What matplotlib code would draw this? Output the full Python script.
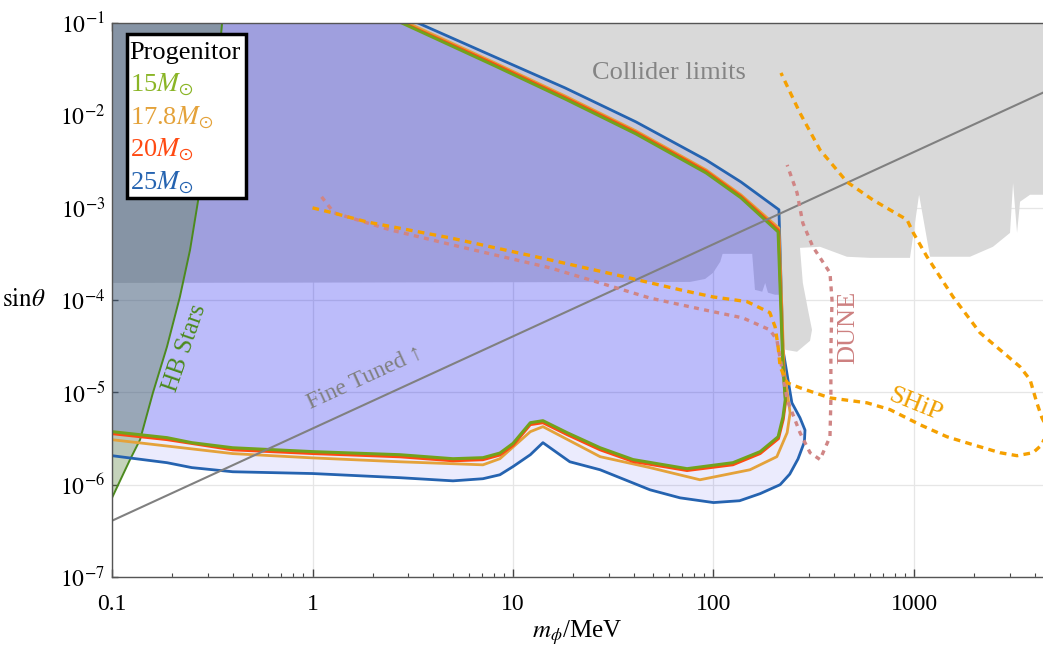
import numpy as np
import matplotlib
matplotlib.use("Agg")
import matplotlib.pyplot as plt
from matplotlib.patches import Rectangle
from matplotlib.ticker import LogLocator, NullLocator, FixedLocator, FixedFormatter

# supernova bounds, traced from the top edge round the right side and back along the bottom
m_25 = [3.36, 8.13, 18.2, 41.0, 91.8, 137, 212, 222, 246, 270, 286, 284, 264, 240, 215, 171, 135, 100, 68.1, 48.2, 27.2, 19.2, 14.1, 12.2, 10, 8.6, 7.08, 5.02, 2.73, 1.0, 0.40, 0.25, 0.188, 0.1]
s_25 = [0.1, 0.0428, 0.0198, 0.0085, 3.29e-3, 1.9e-3, 9.5e-4, 2.9e-5, 7.7e-6, 5.3e-6, 3.9e-6, 2.9e-6, 1.9e-6, 1.3e-6, 1.0e-6, 8.0e-7, 6.7e-7, 6.4e-7, 7.2e-7, 8.8e-7, 1.45e-6, 1.77e-6, 2.85e-6, 2.11e-6, 1.57e-6, 1.28e-6, 1.16e-6, 1.10e-6, 1.19e-6, 1.32e-6, 1.38e-6, 1.53e-6, 1.73e-6, 2.06e-6]

m_178 = [2.99, 8.13, 18.2, 41.0, 91.8, 137, 212, 225, 241, 233, 207, 152, 85.6, 48.2, 27.2, 14.1, 12.2, 8.6, 7.08, 2.73, 1.0, 0.40, 0.1]
s_178 = [0.1, 0.037, 0.0162, 6.8e-3, 2.57e-3, 1.38e-3, 6.0e-4, 1.76e-5, 6.0e-6, 3.66e-6, 2.01e-6, 1.45e-6, 1.13e-6, 1.53e-6, 2.01e-6, 4.25e-6, 3.75e-6, 1.91e-6, 1.64e-6, 1.77e-6, 1.95e-6, 2.17e-6, 3.07e-6]

m_20 = [2.85, 8.13, 18.2, 41.0, 91.8, 137, 211, 223, 229, 223, 211, 171, 125, 73.8, 39.7, 27.2, 18.6, 14.1, 12.2, 10, 8.6, 7.08, 5.02, 2.73, 1.0, 0.40, 0.188, 0.1]
s_20 = [0.1, 0.0357, 0.0156, 6.55e-3, 2.48e-3, 1.33e-3, 5.7e-4, 1.8e-5, 7.9e-6, 5.1e-6, 3.15e-6, 2.17e-6, 1.64e-6, 1.42e-6, 1.78e-6, 2.38e-6, 3.48e-6, 4.68e-6, 4.46e-6, 2.66e-6, 2.09e-6, 1.86e-6, 1.81e-6, 2.0e-6, 2.17e-6, 2.38e-6, 3.07e-6, 3.56e-6]

m_15 = [2.79, 8.13, 18.2, 41.0, 91.8, 137, 210, 222, 228, 222, 210, 171, 125, 73.8, 39.7, 27.2, 18.6, 14.1, 12.2, 10, 8.6, 7.08, 5.02, 2.73, 1.0, 0.40, 0.25, 0.188, 0.1]
s_15 = [0.1, 0.0343, 0.01503, 6.3e-3, 2.38e-3, 1.28e-3, 5.47e-4, 1.89e-5, 8.3e-6, 5.4e-6, 3.3e-6, 2.28e-6, 1.73e-6, 1.49e-6, 1.87e-6, 2.51e-6, 3.66e-6, 4.93e-6, 4.69e-6, 2.8e-6, 2.2e-6, 1.96e-6, 1.91e-6, 2.11e-6, 2.28e-6, 2.51e-6, 2.85e-6, 3.23e-6, 3.75e-6]

# horizontal branch stars
m_hb = [0.1, 0.123, 0.138, 0.160, 0.188, 0.218, 0.245, 0.269, 0.298, 0.327, 0.354, 0.1]
s_hb = [7.2e-7, 1.87e-6, 3.07e-6, 9.9e-6, 3.12e-5, 1.08e-4, 3.49e-4, 1.21e-3, 4.22e-3, 0.0147, 0.1, 0.1]

# collider limits (lower edge of the gray region)
m_col = [0.1, 76.4, 90.8, 99.5, 108, 111, 156, 161, 175, 181, 187, 203, 217, 220, 228, 261, 303, 310, 296, 279, 270, 340, 463, 604, 955, 1060, 1203, 1903, 2477, 3013, 3120, 3266, 3381, 3793, 5000, 5000, 0.1]
s_col = [1.53e-4, 1.57e-4, 1.69e-4, 1.97e-4, 2.59e-4, 3.16e-4, 3.16e-4, 1.29e-4, 1.23e-4, 1.53e-4, 1.20e-4, 1.14e-4, 1.14e-4, 3.71e-5, 2.89e-5, 2.75e-5, 3.61e-5, 4.75e-5, 7.83e-5, 1.53e-4, 3.67e-4, 3.77e-4, 2.94e-4, 2.86e-4, 2.86e-4, 1.38e-3, 2.94e-4, 2.94e-4, 3.77e-4, 5.33e-4, 1.85e-3, 5.33e-4, 1.16e-3, 1.38e-3, 1.38e-3, 0.2, 0.2]

# future experiments
m_dune = [1.11, 1.28, 2.44, 5.45, 15.3, 27.2, 48.2, 85.6, 140, 191, 207, 220, 233, 270, 303, 340, 381, 385, 385, 390, 381, 313, 279, 261, 233]
s_dune = [1.31e-3, 8.8e-4, 5.75e-4, 3.77e-4, 2.23e-4, 1.53e-4, 1.05e-4, 8.0e-5, 6.4e-5, 4.75e-5, 3.71e-5, 1.76e-5, 8.3e-6, 3.66e-6, 2.22e-6, 1.87e-6, 3.3e-6, 8.3e-6, 2.89e-5, 1.0e-4, 1.97e-4, 3.77e-4, 6.8e-4, 1.45e-3, 2.9e-3]

m_ship = [1.0, 1.26, 1.87, 4.85, 15.3, 34.2, 68.1, 99.5, 147, 191, 203, 210, 215, 233, 270, 381, 583, 759, 1072, 1462, 1968, 2685, 3266, 3926, 4345, 4656, 4345, 4100, 3793, 3381, 2685, 2133, 1567, 1161, 989, 923, 625, 463, 340, 270, 217]
s_ship = [9.95e-4, 8.8e-4, 7.0e-4, 4.71e-4, 2.72e-4, 1.83e-4, 1.29e-4, 1.08e-4, 9.6e-5, 7.3e-5, 5.1e-5, 3.12e-5, 1.89e-5, 1.27e-5, 1.12e-5, 8.7e-6, 7.7e-6, 6.5e-6, 4.46e-6, 3.3e-6, 2.71e-6, 2.22e-6, 2.06e-6, 2.22e-6, 2.71e-6, 3.94e-6, 5.31e-6, 7.7e-6, 1.37e-5, 1.89e-5, 2.89e-5, 4.42e-5, 1.08e-4, 2.94e-4, 5.4e-4, 7.4e-4, 1.21e-3, 1.9e-3, 4.22e-3, 0.0106, 0.0288]

# fine tuning line
m_ft = [0.1, 4400]
s_ft = [4.07e-7, 0.0176]

x_ticks = [0.1, 1, 10, 100, 1000]
x_labels = ["0.1", "1", "10", "100", "1000"]
y_ticks = [1e-7, 1e-6, 1e-5, 1e-4, 1e-3, 1e-2, 1e-1]
y_labels = ["$10^{-7}$", "$10^{-6}$", "$10^{-5}$", "$10^{-4}$", "$10^{-3}$", "$10^{-2}$", "$10^{-1}$"]

progenitors = ["15", "17.8", "20", "25"]
prog_colors = ["#8ab526", "#e4a23a", "#ff4a12", "#2563b0"]

plt.rcParams['font.family'] = ['Liberation Serif', 'DejaVu Serif']
plt.rcParams['mathtext.fontset'] = 'stix'

fig = plt.figure(figsize=(10.43, 6.46), dpi=100)
ax = fig.add_axes([0.1074, 0.1068, 0.8926, 0.8576])
ax.set_xscale('log')
ax.set_yscale('log')
ax.set_xlim(0.1, 4400)
ax.set_ylim(1e-7, 1e-1)

ax.grid(True, which='major', color='#e6e6e6', lw=0.9, zorder=0)
ax.set_axisbelow(True)

# collider region
ax.fill(m_col, s_col, color='#d9d9d9', lw=0, zorder=1)

# supernova regions
ax.fill(m_25 + [0.1], s_25 + [0.1], color=(0, 0, 0.94), alpha=0.078, lw=0, zorder=2)
ax.fill(m_15 + [0.1], s_15 + [0.1], color=(0, 0, 0.94), alpha=0.2, lw=0, zorder=2)

# HB stars
ax.fill(m_hb, s_hb, color='#5a823c', alpha=0.35, lw=0, zorder=3)
ax.plot(m_hb[:-1], s_hb[:-1], color='#4c8a1e', lw=1.4, zorder=4)

ax.plot(m_25, s_25, color=prog_colors[3], lw=2.0, zorder=5)
ax.plot(m_178, s_178, color=prog_colors[1], lw=2.0, zorder=5)
ax.plot(m_20, s_20, color=prog_colors[2], lw=2.0, zorder=5)
ax.plot(m_15, s_15, color='#72a21c', lw=2.2, zorder=5)

ax.plot(m_ft, s_ft, color='#808080', lw=1.5, zorder=6)

ax.plot(m_dune, s_dune, color='#d08585', lw=2.4, ls=(0, (1.5, 1.6)), zorder=6)
ax.plot(m_ship, s_ship, color='#f5a000', lw=2.4, ls=(0, (2.0, 1.6)), zorder=6)

ax.text(60, 0.0288, "Collider limits", color='#848484', fontsize=19, ha='center', va='center', zorder=7)
ax.text(0.231, 3.04e-5, "HB Stars", color='#4c8a1e', fontsize=18, rotation=71, ha='center', va='center', rotation_mode='anchor', zorder=7)
ax.text(1.83, 1.44e-5, "Fine Tuned ↑", color='#808080', fontsize=17, rotation=24.7, ha='center', va='center', rotation_mode='anchor', zorder=7)
ax.text(470, 5.0e-5, "DUNE", color='#cd8080', fontsize=19, rotation=90, ha='center', va='center', zorder=7)
ax.text(1012, 7.3e-6, "SHiP", color='#f0a000', fontsize=19, rotation=-22, ha='center', va='center', rotation_mode='anchor', zorder=7)

# legend box
ax.add_patch(Rectangle((0.0161, 0.684), 0.128, 0.296, transform=ax.transAxes, facecolor='white', edgecolor='black', lw=2.5, zorder=10))
ax.text(0.019, 0.946, "Progenitor", transform=ax.transAxes, fontsize=19, color='black', ha='left', va='center', zorder=11)
leg_y = [0.888, 0.829, 0.771, 0.711]
for name, col, yy in zip(progenitors, prog_colors, leg_y):
    ax.text(0.019, yy, name + r"$M_{\odot}$", transform=ax.transAxes, fontsize=19, color=col, ha='left', va='center', zorder=11)

ax.xaxis.set_major_locator(FixedLocator(x_ticks))
ax.xaxis.set_major_formatter(FixedFormatter(x_labels))
ax.xaxis.set_minor_locator(LogLocator(base=10, subs=np.arange(2, 10)))
ax.yaxis.set_major_locator(FixedLocator(y_ticks))
ax.yaxis.set_major_formatter(FixedFormatter(y_labels))
ax.yaxis.set_minor_locator(NullLocator())

ax.tick_params(axis='x', which='major', direction='in', top=True, length=6, width=1, color='#444444', labelsize=17, pad=12)
ax.tick_params(axis='x', which='minor', direction='in', top=True, length=3, width=0.8, color='#444444')
ax.tick_params(axis='y', which='major', direction='in', length=4.5, width=1, color='#444444', labelsize=17, pad=5)

for sp in ['left', 'bottom', 'top']:
    ax.spines[sp].set_color('#555555')
    ax.spines[sp].set_linewidth(1.0)
    ax.spines[sp].set_zorder(12)
ax.spines['right'].set_visible(False)

ax.set_xlabel(r"$m_{\phi}$/MeV", fontsize=18)
ax.xaxis.set_label_coords(0.5, -0.1)
ax.xaxis.label.set_va('center')
ax.set_ylabel(r"$\mathrm{sin}\theta$", fontsize=18, rotation=0)
ax.yaxis.set_label_coords(-0.0945, 0.5)
ax.yaxis.label.set_va('center')
ax.yaxis.label.set_ha('center')

fig.savefig("out.png", dpi=100)
